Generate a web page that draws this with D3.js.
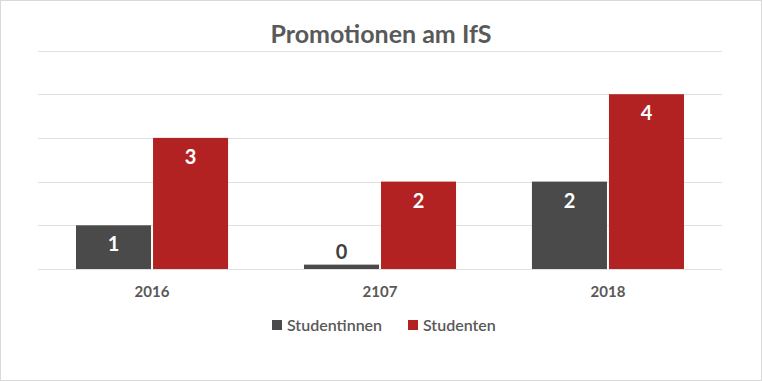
<!DOCTYPE html>
<html><head><meta charset="utf-8">
<script src="https://cdn.jsdelivr.net/npm/d3@7"></script>
<style>body{margin:0;background:#fff}svg{display:block}</style>
</head><body>
<svg id="c" width="762" height="381"></svg>
<script>
const categories = ["2016", "2107", "2018"];
const seriesNames = ["Studentinnen", "Studenten"];
const studentinnen = [1, 0.1, 2];
const studenten = [3, 2, 4];
const yTicks = [0, 1, 2, 3, 4, 5];
const colors = ["#4a4a4a", "#b22222"];

const svg = d3.select("#c");
const W = 762, H = 381;
const font = "Lato, 'Open Sans', sans-serif";
svg.append("rect").attr("x",0.5).attr("y",0.5).attr("width",W-1).attr("height",H-1)
  .attr("fill","#fff").attr("stroke","#d9d9d9");

const x0 = d3.scaleBand().domain(categories).range([38, 722]).paddingInner(0.333).paddingOuter(0.1667);
const x1 = d3.scaleBand().domain(seriesNames).range([0, x0.bandwidth()]).paddingInner(0.026);
const y = d3.scaleLinear().domain([0, 5]).range([269, 50.5]);

svg.append("g").selectAll("line").data(yTicks).join("line")
  .attr("x1",38).attr("x2",722).attr("y1",d=>Math.round(y(d))+0.5).attr("y2",d=>Math.round(y(d))+0.5)
  .attr("stroke","#e0e0e0").attr("stroke-width",1);

svg.append("text").attr("x",381).attr("y",43).attr("text-anchor","middle")
  .attr("font-family",font).attr("font-weight","bold").attr("font-size",25).attr("fill","#595959").text("Promotionen am IfS");

const data = categories.map((c,i)=>({cat:c, vals:[studentinnen[i], studenten[i]]}));
const g = svg.append("g").selectAll("g").data(data).join("g")
  .attr("transform",d=>`translate(${x0(d.cat)},0)`);
g.selectAll("rect").data(d=>d.vals.map((v,j)=>({v, s:seriesNames[j], j}))).join("rect")
  .attr("x",d=>x1(d.s)).attr("width",x1.bandwidth())
  .attr("y",d=>y(d.v)).attr("height",d=>y(0)-y(d.v)).attr("fill",d=>colors[d.j]);
g.selectAll("text").data(d=>d.vals.map((v,j)=>({v, s:seriesNames[j], j}))).join("text")
  .attr("x",d=>x1(d.s)+x1.bandwidth()/2)
  .attr("y",d=>{const h=y(0)-y(d.v); return h<25 ? y(d.v)-6 : y(d.v)+26;})
  .attr("text-anchor","middle").attr("font-family",font).attr("font-weight","bold").attr("font-size",20)
  .attr("fill",d=>(y(0)-y(d.v))<25 ? "#404040" : "#fff")
  .text(d=>d3.format(".0f")(d.v));

const xAxis = svg.append("g").attr("transform","translate(0,269)")
  .call(d3.axisBottom(x0).tickSize(0).tickPadding(17));
xAxis.select(".domain").remove();
xAxis.selectAll("text").attr("font-family",font).attr("font-weight","bold").attr("font-size",15).attr("fill","#595959");

const leg = svg.append("g");
const legX = [272, 408];
seriesNames.forEach((s,i)=>{
  leg.append("rect").attr("x",legX[i]).attr("y",320).attr("width",10).attr("height",10).attr("fill",colors[i]);
  leg.append("text").attr("x",legX[i]+15).attr("y",331).attr("font-family",font).attr("font-weight","600").attr("font-size",16)
    .attr("fill","#595959").text(s);
});
</script>
</body></html>
